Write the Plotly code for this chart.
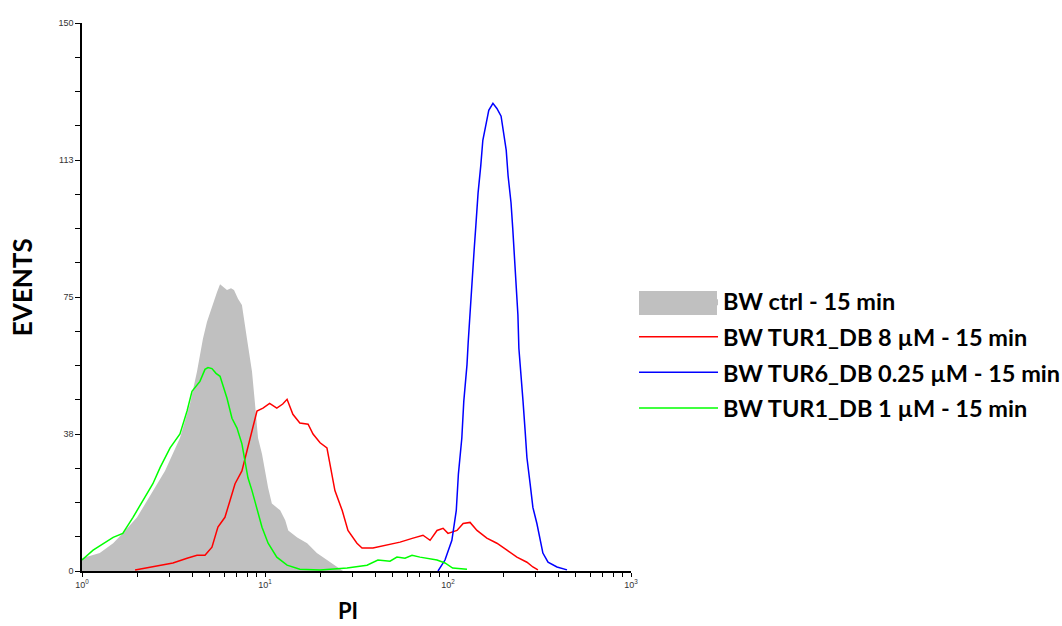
import plotly.graph_objects as go

# ---- data (PI channel value, events) ----
ctrl_pi = [1.0, 1.25, 1.48, 1.67, 2.0, 2.27, 2.57, 2.84, 3.43, 3.89, 4.25, 4.58, 4.82, 5.07,
           5.47, 5.68, 5.97, 6.2, 6.52, 6.77, 7.12, 7.48, 7.97, 8.49, 8.82, 9.16, 9.63, 10.0,
           10.4, 10.9, 12.1, 12.9, 13.4, 15.0, 17.0, 19.2, 21.8, 24.7, 26.7]
ctrl_ev = [3.5, 4.9, 7.6, 10.3, 14.7, 19.3, 23.9, 27.4, 36.4, 45.7, 54.6, 63.6, 68.2, 71.7,
           76.4, 78.5, 77.7, 76.9, 77.4, 76.9, 74.5, 72.8, 63.6, 54.6, 45.7, 36.4, 32.0, 27.4,
           22.8, 18.5, 16.6, 13.9, 11.1, 9.2, 7.6, 4.9, 3.0, 1.1, 0.0]

tur1_8_pi = [1.95, 2.44, 3.14, 3.75, 4.25, 4.70, 5.13, 5.53, 6.04, 6.44, 6.86, 7.48, 7.97, 8.49,
             9.04, 9.75, 10.6, 11.6, 12.5, 13.2, 14.2, 15.5, 17.2, 18.3, 20.0, 21.8, 22.7, 24.1,
             26.4, 28.4, 31.8, 33.9, 38.9, 46.4, 54.7, 64.4, 73.0, 79.8, 87.1, 94.0, 100, 112,
             121, 132, 144, 163, 185, 210, 238, 270, 291, 310]
tur1_8_ev = [0.3, 1.1, 2.2, 3.5, 4.3, 4.3, 6.5, 12.0, 14.7, 19.3, 23.9, 27.4, 32.9, 38.3,
             43.8, 44.6, 45.9, 44.6, 45.7, 47.0, 42.9, 40.5, 40.2, 37.5, 35.1, 33.7, 28.5, 22.0,
             16.6, 11.1, 7.6, 6.3, 6.3, 7.1, 7.9, 9.0, 9.8, 8.4, 11.1, 11.7, 10.3, 11.1,
             13.0, 13.3, 11.1, 9.0, 7.6, 5.7, 3.8, 2.4, 1.1, 0.3]

tur6_pi = [88.2, 96.3, 105, 111, 114, 119, 122, 127, 129, 132, 135, 139, 142, 146, 151, 155,
           163, 167, 176, 185, 195, 200, 208, 213, 221, 226, 230, 235, 241, 244, 251, 257,
           264, 270, 281, 291, 306, 318, 330, 352, 394, 447]
tur6_ev = [0.0, 3.0, 8.4, 16.6, 26.6, 36.4, 46.5, 56.5, 62.8, 71.7, 79.1, 88.0, 94.6, 103.5,
           110.9, 117.9, 123.4, 126.1, 128.0, 126.6, 124.5, 120.7, 115.2, 108.2, 100.8, 93.5,
           86.4, 78.3, 70.1, 60.9, 53.8, 46.5, 38.3, 31.0, 23.9, 17.4, 13.0, 8.4, 4.9, 2.4,
           1.1, 0.3]

tur1_1_pi = [1.0, 1.15, 1.48, 1.67, 1.9, 2.15, 2.44, 2.67, 3.03, 3.43, 3.75, 3.99, 4.41, 4.70,
             4.88, 5.13, 5.40, 5.68, 6.2, 6.6, 7.03, 7.48, 7.78, 8.07, 8.49, 9.04, 9.63, 10.4,
             11.6, 13.2, 15.5, 20.0, 28.1, 36.1, 41.4, 48.2, 52.6, 58.2, 63.6, 70.3, 76.8,
             87.1, 96.3, 106, 127]
tur1_1_ev = [3.0, 5.7, 9.2, 10.3, 14.7, 19.3, 23.9, 28.3, 33.7, 37.5, 43.8, 49.2, 51.9, 55.2,
             55.7, 55.4, 54.1, 53.3, 47.3, 41.8, 39.1, 34.8, 30.2, 25.5, 22.0, 16.6, 12.0, 7.6,
             3.8, 1.6, 0.5, 0.3, 0.8, 1.6, 3.0, 2.7, 3.8, 3.5, 4.3, 3.8, 3.5,
             3.0, 2.2, 0.8, 0.5]

names = ["BW ctrl - 15 min", "BW TUR1_DB 8 µM - 15 min",
         "BW TUR6_DB 0.25 µM - 15 min", "BW TUR1_DB 1 µM - 15 min"]

# ticks
x_major = [1, 10, 100, 1000]
x_major_text = ["10<sup>0</sup>", "10<sup>1</sup>", "10<sup>2</sup>", "10<sup>3</sup>"]
y_labels = ["0", "38", "75", "113", "150"]

GRAY = "#C0C0C0"

fig = go.Figure()
fig.add_trace(go.Scatter(x=ctrl_pi, y=ctrl_ev, name=names[0], mode="lines",
                         line=dict(width=0, color=GRAY), fill="tozeroy",
                         fillcolor=GRAY, legendgroup="a"))
fig.add_trace(go.Scatter(x=tur1_8_pi, y=tur1_8_ev, name=names[1], mode="lines",
                         line=dict(width=1.5, color="#FF0000"), legendgroup="b"))
fig.add_trace(go.Scatter(x=tur6_pi, y=tur6_ev, name=names[2], mode="lines",
                         line=dict(width=1.5, color="#0000FF"), legendgroup="c"))
fig.add_trace(go.Scatter(x=tur1_1_pi, y=tur1_1_ev, name=names[3], mode="lines",
                         line=dict(width=1.5, color="#00FF00"), legendgroup="d"))

# tick positions
xt_vals, xt_text = [], []
for mv, mt in zip(x_major, x_major_text):
    xt_vals.append(mv); xt_text.append(mt)
    if mv < 1000:
        for k in range(2, 10):
            xt_vals.append(mv * k); xt_text.append("")
yt_vals, yt_text = [], []
for i in range(17):
    yt_vals.append(i * 150 / 16)
    yt_text.append(y_labels[i // 4] if i % 4 == 0 else "")

fig.update_layout(
    width=1062, height=626,
    margin=dict(l=82, r=431, t=23, b=55, autoexpand=False),
    paper_bgcolor="white", plot_bgcolor="white",
    showlegend=True,
    legend=dict(x=1.0055, y=0.532, xanchor="left", yanchor="top",
                font=dict(family="Lato", size=23.5, color="black", weight="bold"),
                itemwidth=79, tracegroupgap=2, bgcolor="rgba(0,0,0,0)"),
    # filled box standing for the grey histogram in the legend
    shapes=[dict(type="rect", xref="paper", yref="paper", x0=1.0146, x1=1.1566,
                 y0=0.4672, y1=0.5109, fillcolor=GRAY, line=dict(width=0), layer="below")],
    annotations=[
        dict(text="<b>EVENTS</b>", xref="paper", yref="paper", x=-0.1093, y=0.518,
             xanchor="center", yanchor="middle", textangle=-90, showarrow=False,
             font=dict(family="Lato", size=26, color="black")),
        dict(text="<b>PI</b>", xref="paper", yref="paper", x=0.4845, y=-0.0721,
             xanchor="center", yanchor="middle", showarrow=False, borderpad=0,
             font=dict(family="Lato", size=22, color="black")),
    ],
    xaxis=dict(type="log", range=[0, 3], showline=True, linecolor="black", linewidth=1.5,
               ticks="outside", ticklen=4, tickcolor="black", tickvals=xt_vals, ticktext=xt_text,
               tickfont=dict(family="Arial", size=9, color="#333"), showgrid=False, zeroline=False),
    yaxis=dict(range=[0, 150], showline=True, linecolor="black", linewidth=1.5,
               ticks="outside", ticklen=5, tickcolor="black", tickvals=yt_vals, ticktext=yt_text,
               tickfont=dict(family="Arial", size=9, color="#333"), showgrid=False, zeroline=False),
)

fig.write_html("out.html")
